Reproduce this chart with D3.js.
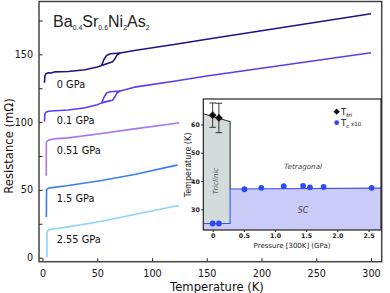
<!DOCTYPE html>
<html><head><meta charset="utf-8">
<script src="https://cdn.jsdelivr.net/npm/d3@7"></script>
<style>html,body{margin:0;padding:0;background:#fff;}svg{display:block;}</style>
</head><body>
<svg id="c" width="390" height="293"></svg>
<script>
// ---- data ----
const pressures = ["0 GPa", "0.1 GPa", "0.51 GPa", "1.5 GPa", "2.55 GPa"];
const colors = ["#1f1389", "#5b3df2", "#a676f3", "#3c7ef0", "#8dd3fb"];
const r0 = [[1.8,129],[2.2,134],[3,135.6],[5.5,136.4],[8,136.2],[11.5,137.1],[23.6,137.3],[38.8,138.6],[50,140.6],[54,141.8],[60,143.5],[64,144.6],[66,146.5],[68,149.5],[71,151],[84,152.9],[120,157.3],[150,161.2],[200,167.4],[250,173.7],[300,180]];
const r0cool = [[71,151],[62,150.5],[58.5,149.2],[56,146],[54,141.8]];
const r01 = [[1.8,100.5],[2.2,106],[3,107.2],[5.5,108],[11.5,108.4],[23.6,108.9],[38.8,110.6],[50,112.8],[54,114.2],[60,115.5],[64,116.2],[66,118.5],[68,121.5],[71,123],[84,125.8],[120,130.2],[150,134],[200,139.8],[250,145.5],[300,151.2]];
const r01cool = [[71,123],[62,122.4],[58.5,121.5],[56,118],[54,114.2]];
const r051 = [[3.4,60.5],[3.5,84.8],[4.5,86.2],[5.5,86.7],[10,87.6],[23.6,88.4],[54,91.6],[84,95],[120.6,99],[125,99.5]];
const r15 = [[3.5,30],[3.7,50],[5,51],[7,51.5],[23.6,53.2],[54,56.9],[84,61.3],[120.6,67.9],[123.5,68.3]];
const r255 = [[4,0.3],[4.2,19.4],[5.5,20.3],[7,20.7],[23.6,22.7],[54,26.8],[84,31.8],[120.6,37.9],[125,38.5]];
const labelR = [128, 101, 78.8, 43.4, 13.6];
const xTicks = [0,50,100,150,200,250,300];
const yTicks = [0,50,100,150];
const yMinor = [25,75,125,175];

// inset data
const pTri = [0, 0.1];
const tTri = [63.3, 62.3];
const tTriErr = [4.3, 5.2];
const pTc = [0, 0.1, 0.51, 0.78, 1.14, 1.45, 1.56, 1.78, 2.55];
const tTc = [25.0, 25.0, 37.1, 37.6, 38.2, 38.3, 37.8, 37.9, 37.6];
const triBoundary = [[-0.15,63.8],[0.28,61.0]];
const scBoundary = [[-0.15,25],[0.28,25],[0.28,37.2],[2.70,37.5]];
const ixTicks = [0,0.5,1.0,1.5,2.0,2.5];
const iyTicks = [30,40,50,60];

const svg = d3.select("#c");
const x = d3.scaleLinear([-3.2, 309.8], [39, 381.7]);
const y = d3.scaleLinear([-3, 189], [261.7, 1.5]);

const series = [[r0, r0cool], [r01, r01cool], [r051], [r15], [r255]];
const line = d3.line().x(d => x(d[0])).y(d => y(d[1]));
series.forEach((segs, i) => {
  segs.forEach(s => svg.append("path").attr("d", line(s)).attr("fill", "none")
    .attr("stroke", colors[i]).attr("stroke-width", 1.6).attr("stroke-linejoin", "round"));
  svg.append("text").attr("x", x(13)).attr("y", y(labelR[i]) + 3.5)
    .attr("font-family", "DejaVu Sans").attr("font-size", 9.8).attr("fill", "#111").text(pressures[i]);
});

// axes (inward ticks)
const gx = svg.append("g").attr("transform", "translate(0,261.7)")
  .call(d3.axisBottom(x).tickValues(xTicks).tickSize(-3.5).tickPadding(8));
const gy = svg.append("g").attr("transform", "translate(39,0)")
  .call(d3.axisLeft(y).tickValues(yTicks).tickSize(-3.5).tickPadding(6));
svg.append("g").attr("transform", "translate(39,0)")
  .call(d3.axisLeft(y).tickValues(yMinor).tickSize(-3.5).tickFormat(""))
  .call(g => g.select(".domain").remove());
[gx, gy].forEach(g => {
  g.selectAll("text").attr("font-family", "DejaVu Sans").attr("font-size", 9.6).attr("fill", "#111");
  g.select(".domain").remove();
});
svg.selectAll(".tick line").attr("stroke", "#222").attr("stroke-width", 1);
svg.append("rect").attr("x", 39).attr("y", 1.5).attr("width", 381.7 - 39).attr("height", 261.7 - 1.5)
  .attr("fill", "none").attr("stroke", "#444").attr("stroke-width", 1.5);

svg.append("text").attr("x", 217).attr("y", 291).attr("text-anchor", "middle")
  .attr("font-family", "DejaVu Sans").attr("font-size", 11.6).attr("fill", "#111").text("Temperature (K)");
svg.append("text").attr("transform", "translate(13,146) rotate(-90)").attr("text-anchor", "middle")
  .attr("font-family", "DejaVu Sans").attr("font-size", 11.6).attr("fill", "#111").text("Resistance (mΩ)");

// title
const tt = svg.append("text").attr("x", 53).attr("y", 27.3).attr("font-family", "Liberation Sans")
  .attr("font-size", 16).attr("fill", "#222");
const parts = [["Ba",0],["0.4",1],["Sr",0],["0.6",1],["Ni",0],["2",1],["As",0],["2",1]];
let cur = 0;
parts.forEach(([t, sub]) => {
  const target = sub ? 3 : 0;
  tt.append("tspan").attr("font-size", sub ? 7 : 16).attr("dy", target - cur).text(t);
  cur = target;
});

// ---- inset ----
const xi = d3.scaleLinear([-0.15, 2.70], [203.3, 381]);
const yi = d3.scaleLinear([22.7, 69], [230, 99]);
const ig = svg.append("g");
ig.append("rect").attr("x", 203.3).attr("y", 99).attr("width", 381 - 203.3).attr("height", 131).attr("fill", "#fff");
const li = d3.line().x(d => xi(d[0])).y(d => yi(d[1]));
// triclinic region
const triPoly = [triBoundary[0], triBoundary[1], [0.28, 25], [-0.15, 25]];
ig.append("path").attr("d", li(triPoly) + "Z").attr("fill", "#d3dbdb").attr("stroke", "none");
// SC region
const scPoly = [[-0.15, 22.7]].concat(scBoundary).concat([[2.70, 22.7]]);
ig.append("path").attr("d", li(scPoly) + "Z").attr("fill", "#cacbf6").attr("stroke", "none");
ig.append("path").attr("d", li([triBoundary[0], triBoundary[1], [0.28, 37.2]])).attr("fill", "none")
  .attr("stroke", "#222").attr("stroke-width", 1);
ig.append("path").attr("d", li(scBoundary)).attr("fill", "none").attr("stroke", "#3a55e6").attr("stroke-width", 1.1);

ig.append("text").attr("transform", `translate(${xi(0.08)},${yi(40)}) rotate(-90)`).attr("text-anchor", "middle")
  .attr("font-family", "DejaVu Sans").attr("font-style", "italic").attr("font-size", 7).attr("fill", "#555").text("Triclinic");
ig.append("text").attr("x", xi(1.45)).attr("y", yi(44.3)).attr("text-anchor", "middle")
  .attr("font-family", "DejaVu Sans").attr("font-style", "italic").attr("font-size", 7.2).attr("fill", "#444").text("Tetragonal");
ig.append("text").attr("x", xi(1.45)).attr("y", yi(28.6)).attr("text-anchor", "middle")
  .attr("font-family", "DejaVu Sans").attr("font-style", "italic").attr("font-size", 8).attr("fill", "#444").text("SC");

// Tc points
pTc.forEach((p, i) => ig.append("circle").attr("cx", xi(p)).attr("cy", yi(tTc[i])).attr("r", 2.9).attr("fill", "#2d4bf5"));
// Ttri with error bars
pTri.forEach((p, i) => {
  const cx = xi(p), t = tTri[i], e = tTriErr[i];
  ig.append("line").attr("x1", cx).attr("x2", cx).attr("y1", yi(t - e)).attr("y2", yi(t + e)).attr("stroke", "#222").attr("stroke-width", 0.9);
  [t - e, t + e].forEach(v => ig.append("line").attr("x1", cx - 3.3).attr("x2", cx + 3.3).attr("y1", yi(v)).attr("y2", yi(v)).attr("stroke", "#222").attr("stroke-width", 0.9));
  ig.append("path").attr("d", d3.symbol(d3.symbolSquare, 30)()).attr("transform", `translate(${cx},${yi(t)}) rotate(45)`).attr("fill", "#111");
});

// inset axes
const gxi = ig.append("g").attr("transform", "translate(0,230)")
  .call(d3.axisBottom(xi).tickValues(ixTicks).tickSize(2).tickPadding(1.5).tickFormat(d => d === 0 ? "0" : d3.format(".1f")(d)));
const gyi = ig.append("g").attr("transform", "translate(203.3,0)")
  .call(d3.axisLeft(yi).tickValues(iyTicks).tickSize(2).tickPadding(1.5));
[gxi, gyi].forEach(g => {
  g.selectAll("text").attr("font-family", "DejaVu Sans").attr("font-size", 6.3).attr("fill", "#222").attr("font-weight", "bold");
  g.select(".domain").remove();
  g.selectAll(".tick line").attr("stroke", "#222");
});
ig.append("rect").attr("x", 203.3).attr("y", 99).attr("width", 381 - 203.3).attr("height", 131)
  .attr("fill", "none").attr("stroke", "#222").attr("stroke-width", 1.2);
ig.append("text").attr("x", 292).attr("y", 247.5).attr("text-anchor", "middle")
  .attr("font-family", "DejaVu Sans").attr("font-size", 7).attr("fill", "#222").text("Pressure [300K] (GPa)");
ig.append("text").attr("transform", "translate(190.5,165) rotate(-90)").attr("text-anchor", "middle")
  .attr("font-family", "DejaVu Sans").attr("font-size", 8).attr("fill", "#222").text("Temperature (K)");

// legend
ig.append("path").attr("d", d3.symbol(d3.symbolSquare, 20)()).attr("transform", "translate(336.7,111.7) rotate(45)").attr("fill", "#111");
const l1 = ig.append("text").attr("x", 341).attr("y", 115).attr("font-family", "DejaVu Sans").attr("font-size", 8.5).attr("fill", "#111");
l1.append("tspan").text("T");
l1.append("tspan").attr("font-size", 5.5).attr("font-style", "italic").attr("dy", 1.5).text("tri");
ig.append("circle").attr("cx", 336.7).attr("cy", 122.7).attr("r", 2.4).attr("fill", "#2d4bf5");
const l2 = ig.append("text").attr("x", 341).attr("y", 126).attr("font-family", "DejaVu Sans").attr("font-size", 8.5).attr("fill", "#111");
l2.append("tspan").text("T");
l2.append("tspan").attr("font-size", 5.5).attr("font-style", "italic").attr("dy", 1.5).text("c");
l2.append("tspan").attr("font-size", 5.5).attr("dy", -1.5).text(" x10");
</script>
</body></html>
